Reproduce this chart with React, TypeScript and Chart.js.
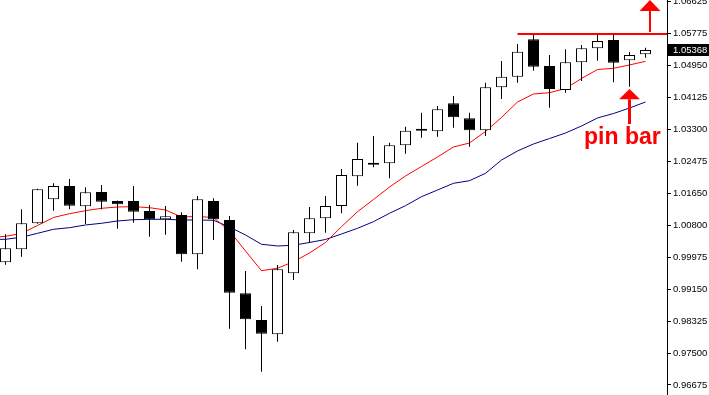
import React, { useEffect, useRef } from "react";
import { Chart, registerables } from "chart.js";

Chart.register(...registerables);

// ---- data (EURUSD-like daily candles, index 0..40) ----
const opens = [
  0.99859, 1.00197, 1.00872, 1.01495, 1.0184, 1.01313, 1.01685, 1.01451, 1.01451, 1.01191,
  1.00976, 1.01087, 1.00067, 1.01451, 1.00958, 0.99055, 0.98362, 0.9799, 0.99574, 1.00612,
  1.01002, 1.01321, 1.02092, 1.0243, 1.0243, 1.02897, 1.03276, 1.0326, 1.03987, 1.03598,
  1.03286, 1.04403, 1.04678, 1.05649, 1.04956, 1.04333, 1.05052, 1.05415, 1.05631, 1.05104,
  1.05259,
];
const highs = [
  1.00586, 1.01235, 1.01768, 1.0191, 1.02022, 1.01807, 1.01866, 1.01464, 1.0184, 1.01347,
  1.01321, 1.01158, 1.01581, 1.01521, 1.01061, 0.99634, 0.98725, 0.99789, 1.00698, 1.01295,
  1.01581, 1.02282, 1.02964, 1.03138, 1.02964, 1.0338, 1.03743, 1.03917, 1.04177, 1.03743,
  1.04522, 1.05085, 1.05527, 1.058, 1.05241, 1.05389, 1.05501, 1.0576, 1.0576, 1.05319,
  1.05431,
];
const lows = [
  0.99797, 1.00005, 1.00859, 1.01199, 1.01235, 1.00854, 1.01235, 1.00732, 1.00888, 1.00524,
  1.00576, 0.99875, 0.99678, 1.00438, 0.98136, 0.97601, 0.97019, 0.97798, 0.994, 1.00368,
  1.00628, 1.01132, 1.01848, 1.02326, 1.0204, 1.02679, 1.03094, 1.0312, 1.03354, 1.02861,
  1.03138, 1.04099, 1.04522, 1.04834, 1.03873, 1.04262, 1.04566, 1.05093, 1.04532, 1.04418,
  1.05171,
];
const closes = [
  1.00223, 1.00872, 1.01755, 1.0184, 1.01329, 1.01677, 1.01433, 1.01365, 1.01173, 1.00976,
  1.01054, 1.00067, 1.01495, 1.00976, 0.9907, 0.9838, 0.98006, 0.99678, 1.00638, 1.01002,
  1.01321, 1.02126, 1.02541, 1.02393, 1.02897, 1.03276, 1.03294, 1.03831, 1.03624, 1.03286,
  1.04403, 1.04678, 1.05327, 1.04937, 1.04359, 1.05052, 1.05415, 1.05605, 1.05041, 1.05241,
  1.05368,
];
// moving averages, starting one bar before the first visible candle (index -1)
const fastMA = [
  1.00503, 1.00534, 1.00607, 1.00815, 1.01023, 1.01121, 1.01199, 1.01261, 1.01295, 1.01303,
  1.01277, 1.01217, 1.01036, 1.01048, 1.01023, 1.00672, 1.00153, 0.99641, 0.99704, 0.99875,
  1.00101, 1.00374, 1.00784, 1.01173, 1.0149, 1.01814, 1.021, 1.02347, 1.02593, 1.02853,
  1.02957, 1.03255, 1.03619, 1.04021, 1.04229, 1.04262, 1.04372, 1.04631, 1.04865, 1.04896,
  1.04982, 1.05078,
];
const slowMA = [
  1.00451, 1.00457, 1.00509, 1.00612, 1.00716, 1.00758, 1.00828, 1.00872, 1.00932, 1.00965,
  1.00976, 1.00976, 1.00958, 1.00958, 1.0095, 1.00776, 1.00568, 1.00327, 1.00283, 1.00301,
  1.00374, 1.00451, 1.00594, 1.00742, 1.00914, 1.01132, 1.01329, 1.01563, 1.01736, 1.0191,
  1.01978, 1.0217, 1.02515, 1.02749, 1.02931, 1.03073, 1.03216, 1.03398, 1.03606, 1.03722,
  1.03865, 1.04021,
];
const tickLabels = [
  "1.06625", "1.05775", "1.04950", "1.04125", "1.03300", "1.02475", "1.01650",
  "1.00800", "0.99975", "0.99150", "0.98325", "0.97500", "0.96675",
];
const resistanceLevel = 1.05785;
const resistanceStartIndex = 32;
const currentPrice = 1.05368;
const annotationText = "pin bar";

// ---- view ranges ----
const X_MIN = -0.34375;
const X_MAX = 41.34375;
const Y_MAX = 1.06669;
const Y_MIN = 0.96414;

const RED = "#ff0000";

const annotationPlugin = {
  id: "mtAnnotations",
  afterDatasetsDraw(chart: any) {
    const { ctx, chartArea } = chart;
    const xs = chart.scales.x;
    const ys = chart.scales.y;
    ctx.save();
    ctx.beginPath();
    ctx.rect(chartArea.left, chartArea.top, chartArea.right - chartArea.left, chartArea.bottom - chartArea.top);
    ctx.clip();
    ctx.fillStyle = RED;
    const arrows = [
      { index: 40.28, tip: 1.06669, base: 1.06383, tail: 1.05838, shaft: 2, half: 10.5 },
      { index: 39, tip: 1.04358, base: 1.04091, tail: 1.0345, shaft: 3, half: 10.5 },
    ];
    for (const a of arrows) {
      const px = xs.getPixelForValue(a.index);
      const tip = ys.getPixelForValue(a.tip);
      const base = ys.getPixelForValue(a.base);
      const tail = ys.getPixelForValue(a.tail);
      ctx.fillRect(px - a.shaft / 2, base, a.shaft, tail - base);
      ctx.beginPath();
      ctx.moveTo(px, tip);
      ctx.lineTo(px - a.half, base);
      ctx.lineTo(px + a.half, base);
      ctx.closePath();
      ctx.fill();
    }
    ctx.font = 'bold 23px "Liberation Sans", Arial, sans-serif';
    ctx.textAlign = "left";
    ctx.textBaseline = "alphabetic";
    ctx.fillText(annotationText, xs.getPixelForValue(36.16), ys.getPixelForValue(1.02931));
    ctx.restore();
  },
  afterDraw(chart: any) {
    const { ctx, chartArea } = chart;
    const ys = chart.scales.y;
    const py = Math.round(ys.getPixelForValue(currentPrice));
    ctx.save();
    ctx.fillStyle = "#000";
    ctx.fillRect(chartArea.right + 1, py - 6, chart.width - chartArea.right - 1, 12);
    ctx.fillStyle = "#fff";
    ctx.font = '9.5px "Liberation Sans", Arial, sans-serif';
    ctx.textAlign = "left";
    ctx.textBaseline = "middle";
    ctx.fillText(currentPrice.toFixed(5), chartArea.right + 6, py + 0.5);
    ctx.restore();
  },
};

export default function App() {
  const ref = useRef<HTMLCanvasElement>(null);
  useEffect(() => {
    const idx = opens.map((_, i) => i);
    const bodyColors = idx.map((i) => (closes[i] >= opens[i] ? "#ffffff" : "#000000"));
    const tickTop = parseFloat(tickLabels[0]);
    const tickBottom = parseFloat(tickLabels[tickLabels.length - 1]);
    const tickStep = (tickTop - tickBottom) / (tickLabels.length - 1);

    const chart = new Chart(ref.current as HTMLCanvasElement, {
      type: "bar",
      data: {
        datasets: [
          {
            type: "line",
            data: fastMA.map((v, i) => ({ x: i - 1, y: v })),
            borderColor: RED,
            borderWidth: 1,
            pointRadius: 0,
            tension: 0,
            order: 4,
          } as any,
          {
            type: "line",
            data: slowMA.map((v, i) => ({ x: i - 1, y: v })),
            borderColor: "#000080",
            borderWidth: 1,
            pointRadius: 0,
            tension: 0,
            order: 5,
          } as any,
          {
            type: "bar",
            data: idx.map((i) => ({ x: i, y: [lows[i], highs[i]] })),
            backgroundColor: "#000000",
            borderWidth: 0,
            barThickness: 1,
            grouped: false,
            inflateAmount: 0,
            order: 3,
          } as any,
          {
            type: "bar",
            data: idx.map((i) => ({ x: i, y: [opens[i], closes[i]] })),
            backgroundColor: bodyColors,
            borderColor: "#000000",
            borderWidth: 1,
            borderSkipped: false,
            barThickness: 11,
            minBarLength: 2,
            grouped: false,
            inflateAmount: 0,
            order: 2,
          } as any,
          {
            type: "line",
            data: [
              { x: resistanceStartIndex, y: resistanceLevel },
              { x: X_MAX, y: resistanceLevel },
            ],
            borderColor: RED,
            borderWidth: 2,
            pointRadius: 0,
            order: 0,
          } as any,
        ],
      },
      options: {
        responsive: false,
        devicePixelRatio: 1,
        animation: false,
        events: [],
        layout: { padding: 0 },
        plugins: { legend: { display: false }, tooltip: { enabled: false } },
        scales: {
          x: {
            type: "linear",
            display: false,
            min: X_MIN,
            max: X_MAX,
            offset: false,
          },
          y: {
            type: "linear",
            position: "right",
            min: Y_MIN,
            max: Y_MAX,
            beginAtZero: false,
            afterBuildTicks: (scale: any) => {
              scale.ticks = tickLabels.map((_, i) => ({ value: tickTop - i * tickStep }));
            },
            afterFit: (scale: any) => {
              scale.width = 42;
              scale.paddingTop = 0;
              scale.paddingBottom = 0;
            },
            grid: {
              drawOnChartArea: false,
              drawTicks: true,
              tickLength: 4,
              tickColor: "#000",
              tickWidth: 1,
            },
            border: { display: true, color: "#000", width: 1 },
            ticks: {
              autoSkip: false,
              padding: 2,
              color: "#000",
              font: { family: '"Liberation Sans", Arial, sans-serif', size: 9.5 },
              callback: (_v: any, i: number) => tickLabels[i],
            },
          },
        },
      },
      plugins: [annotationPlugin],
    } as any);
    return () => chart.destroy();
  }, []);

  return (
    <div style={{ position: "fixed", left: 0, top: 0, width: 709, height: 395, background: "#fff" }}>
      <canvas ref={ref} width={709} height={395} style={{ display: "block", width: 709, height: 395 }} />
    </div>
  );
}
